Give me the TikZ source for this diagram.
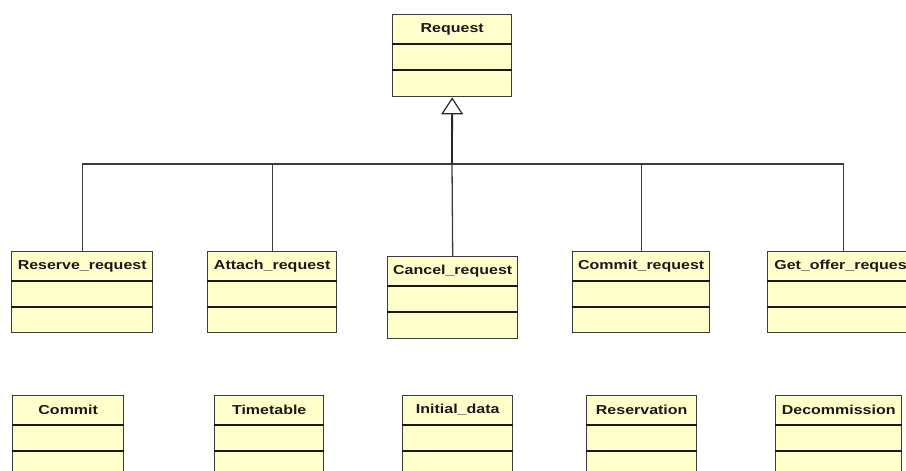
\documentclass[tikz,border=0pt]{standalone}
\usepackage{fontspec}
\newfontfamily\classfont[FakeStretch=1.23]{Liberation Sans}
\usetikzlibrary{calc,arrows.meta}
\definecolor{classfill}{RGB}{255,255,204}
\definecolor{classline}{RGB}{60,60,60}
\tikzset{
  classbox/.style={draw=classline, fill=classfill, line width=1.4pt, inner sep=0pt},
  classname/.style={font=\classfont\fontsize{13}{15}\selectfont\bfseries, text=black!90, inner sep=0pt},
  divider/.style={line width=1.1pt, color=black!90},
  link/.style={line width=1.3pt, color=classline},
  inherit/.style={line width=1.8pt, color=black!85, -{Triangle[open, length=17pt, width=22pt, line width=1.2pt]}}
}
% class box: name, top-left corner, width and height, title
\def\umlclass(#1)(#2,#3)(#4,#5)#6{%
  \node[classbox, anchor=north west, minimum width=#4pt, minimum height=#5pt] (#1) at (#2,#3) {};
  \node[classname] (#1-title) at ($(#1.north)+(0,15)$) {#6};
  \draw[divider] ($(#1.north west)+(0,30)$) -- ($(#1.north east)+(0,30)$);
  \draw[divider] ($(#1.north west)+(0,56)$) -- ($(#1.north east)+(0,56)$);
}

\begin{document}
\begin{tikzpicture}[x=1pt, y=-1pt]
	%%%%% START %%%%%
	\useasboundingbox (0,0) rectangle (906,471);
	\clip (0,0) rectangle (906,471);
	
	\umlclass(request)(392,14)(119,82){Request}
	
	\umlclass(reserve)(11,251)(141,81){Reserve\_request}
	\umlclass(attach)(207,251)(129,81){Attach\_request}
	\umlclass(cancel)(387,256)(130,82){Cancel\_request}
	\umlclass(commitreq)(572,251)(137,81){Commit\_request}
	\umlclass(getoffer)(767,251)(151,81){Get\_offer\_request}
	
	\umlclass(commit)(12,395)(111,90){Commit}
	\umlclass(timetable)(214,395)(109,90){Timetable}
	\umlclass(initdata)(402,395)(110,90){Initial\_data}
	\umlclass(reservation)(586,395)(110,90){Reservation}
	\umlclass(decommission)(775,395)(126,90){Decommission}
	
	\coordinate (bar) at (452,164);
	\draw[link] (reserve.north) |- (bar) -| (getoffer.north);
	\draw[link] (attach.north) |- (bar);
	\draw[link] (commitreq.north) |- (bar);
	\draw[link] (cancel.north) -- (bar);
	\draw[inherit] (bar) -- (request.south);
	%%%%% END %%%%%
\end{tikzpicture}
\end{document}
